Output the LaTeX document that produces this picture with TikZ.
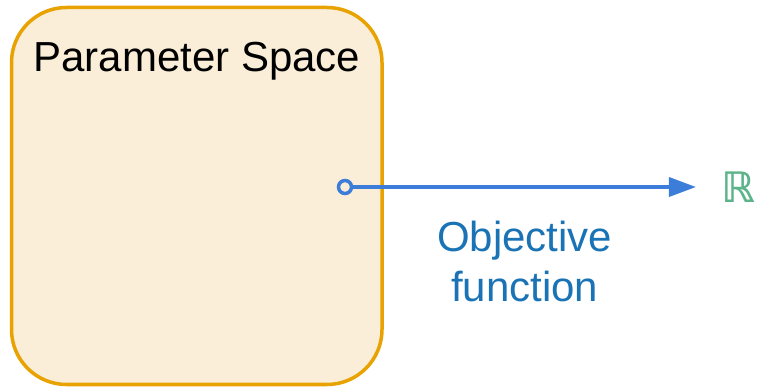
\documentclass[tikz,border=0pt]{standalone}
\usepackage{fontspec}
\setmainfont{Liberation Sans}
\newfontfamily\symfont{DejaVu Sans}
\usetikzlibrary{positioning,arrows.meta}
\definecolor{boxfill}{HTML}{FBEED8}
\definecolor{boxline}{HTML}{E8A202}
\definecolor{mapblue}{HTML}{3C7DD9}
\definecolor{labelblue}{HTML}{1A73B5}
\definecolor{realgreen}{HTML}{5DB38A}
\tikzset{
  space/.style={draw=boxline,fill=boxfill,line width=3.5pt,rounded corners=55pt,
    minimum width=370.5pt,minimum height=377pt,inner sep=0pt},
  bigtext/.style={font=\fontsize{42}{50}\selectfont,inner sep=0pt},
  dot/.style={circle,draw=mapblue,fill=boxfill,line width=3.5pt,minimum size=13pt,inner sep=0pt},
  map/.style={-{Triangle[length=27pt,width=19pt]},draw=mapblue,line width=3.5pt},
}

\begin{document}
\begin{tikzpicture}[x=1pt,y=-1pt]
  \useasboundingbox (0,0) rectangle (758,387);
  \node[space] (param) at (196.75,196) {};
  \node[bigtext,anchor=base] (title) at (197,72) {Parameter Space};
  \node[dot] (src) at (345,187) {};
  \node[bigtext,text=realgreen,font=\symfont\fontsize{42}{50}\selectfont,inner xsep=25pt]
    (reals) at (738,187) {\textbf{ℝ}};
  \draw[map] (src) -- (reals)
    node[midway,below=32pt,bigtext,text=labelblue,align=center] (objlabel) {Objective\\function};
\end{tikzpicture}
\end{document}
